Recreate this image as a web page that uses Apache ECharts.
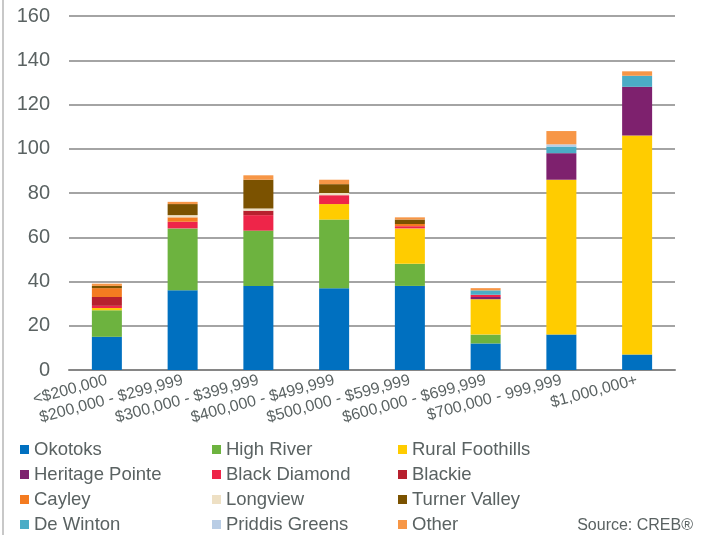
<!DOCTYPE html>
<html style="height: 100%;">
  <head>
    <meta charset="utf-8" />
  </head>
  <body style="height: 100%; margin: 0; background: #fff;">
    <div id="container" style="width: 707px; height: 535px;"></div>
    <script src="https://cdn.jsdelivr.net/npm/echarts@6/dist/echarts.min.js"></script>
    <script type="text/javascript">
      var categories = [
        "<$200,000",
        "$200,000 - $299,999",
        "$300,000 - $399,999",
        "$400,000 - $499,999",
        "$500,000 - $599,999",
        "$600,000 - $699,999",
        "$700,000 - 999,999",
        "$1,000,000+",
      ];
      var okotoks = [15, 36, 38, 37, 38, 12, 16, 7];
      var highRiver = [12, 28, 25, 31, 10, 4, 0, 0];
      var ruralFoothills = [1, 0, 0, 7, 16, 16, 70, 99];
      var heritagePointe = [0, 0, 0, 0, 0, 1, 12, 22];
      var blackDiamond = [1, 3, 7, 4, 1, 1, 0, 0];
      var blackie = [4, 0, 2, 0, 0, 0, 0, 0];
      var cayley = [4, 2, 0, 0, 1, 0, 0, 0];
      var longview = [0, 1, 1, 1, 0, 0, 0, 0];
      var turnerValley = [1, 5, 13, 4, 2, 0, 0, 0];
      var deWinton = [0, 0, 0, 0, 0, 2, 3, 5];
      var priddisGreens = [0, 0, 0, 0, 0, 0, 1, 0];
      var other = [1, 1, 2, 2, 1, 1, 6, 2];

      var seriesDefs = [
        ["Okotoks", okotoks, "#0070c0"],
        ["High River", highRiver, "#6db33f"],
        ["Rural Foothills", ruralFoothills, "#ffcc00"],
        ["Heritage Pointe", heritagePointe, "#7e216e"],
        ["Black Diamond", blackDiamond, "#ee2549"],
        ["Blackie", blackie, "#b7202e"],
        ["Cayley", cayley, "#f47b20"],
        ["Longview", longview, "#eee0c4"],
        ["Turner Valley", turnerValley, "#7b5200"],
        ["De Winton", deWinton, "#4bacc6"],
        ["Priddis Greens", priddisGreens, "#b9cde5"],
        ["Other", other, "#f79646"],
      ];

      var textColor = "#5a6262";
      var font = "Liberation Sans, Arial, sans-serif";

      // one vertical legend per column so the columns line up
      function legendCol(left, names) {
        return {
          orient: "vertical",
          left: left,
          top: 440,
          height: 120,
          padding: 0,
          itemWidth: 9,
          itemHeight: 9,
          itemGap: 6,
          icon: "rect",
          selectedMode: false,
          data: names,
          textStyle: { color: textColor, fontSize: 18.5, lineHeight: 19, fontFamily: font },
        };
      }

      var chart = echarts.init(document.getElementById("container"));
      var option = {
        animation: false,
        grid: { left: 69, right: 32, top: 16, bottom: 165 },
        legend: [
          legendCol(20, ["Okotoks", "Heritage Pointe", "Cayley", "De Winton"]),
          legendCol(212, ["High River", "Black Diamond", "Longview", "Priddis Greens"]),
          legendCol(398, ["Rural Foothills", "Blackie", "Turner Valley", "Other"]),
        ],
        xAxis: {
          type: "category",
          data: categories,
          axisLine: { lineStyle: { color: "#868686", width: 2 } },
          axisTick: { show: false },
          axisLabel: {
            interval: 0,
            rotate: 15,
            margin: 10,
            color: textColor,
            fontSize: 16,
            fontFamily: font,
          },
        },
        yAxis: {
          type: "value",
          min: 0,
          max: 160,
          interval: 20,
          axisLine: { show: false },
          axisTick: { show: false },
          axisLabel: { color: textColor, fontSize: 20, margin: 19, fontFamily: font },
          splitLine: { lineStyle: { color: "#868686", width: 1.5 } },
        },
        graphic: [
          {
            type: "rect",
            left: 2,
            top: 0,
            shape: { width: 2, height: 535 },
            style: { fill: "#c8c8c8" },
          },
          {
            type: "text",
            right: 14,
            bottom: 1,
            style: { text: "Source: CREB®", fill: textColor, fontSize: 16, fontFamily: font },
          },
        ],
        series: seriesDefs.map(function (d) {
          return {
            name: d[0],
            type: "bar",
            stack: "total",
            barWidth: 30,
            data: d[1],
            itemStyle: { color: d[2] },
          };
        }),
      };
      chart.setOption(option);
    </script>
  </body>
</html>
